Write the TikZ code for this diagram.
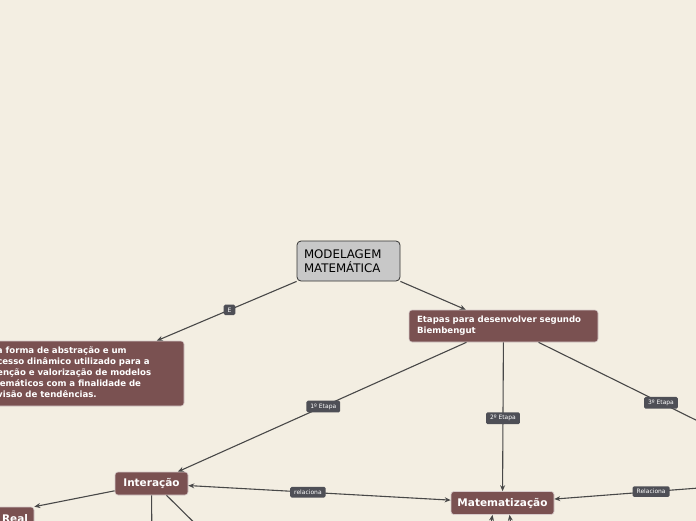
\documentclass[tikz,border=0pt]{standalone}
\usepackage{fontspec}
\setmainfont{DejaVu Sans}
\usetikzlibrary{arrows.meta}

\definecolor{paper}{RGB}{243,238,226}
\definecolor{topicbrown}{RGB}{122,81,81}
\definecolor{rootgray}{RGB}{200,200,200}
\definecolor{linkgray}{RGB}{72,72,72}
\definecolor{tagdark}{RGB}{78,79,86}

\begin{document}
\begin{tikzpicture}[
    x=1pt, y=-1pt,
    >={Stealth[length=6pt,width=5pt]},
    central/.style={
        rectangle,
        rounded corners=4pt,
        draw=black!80,
        fill=rootgray,
        line width=0.8pt,
        align=left,
        text width=89pt,
        inner xsep=7pt,
        minimum height=40pt,
        font=\fontsize{11.8}{14.5}\selectfont
    },
    topic/.style={
        rectangle,
        rounded corners=3pt,
        draw=white!70!topicbrown,
        line width=0.6pt,
        fill=topicbrown,
        text=white,
        align=left,
        font=\bfseries\fontsize{8.6}{11}\selectfont
    },
    subtopic/.style={
        topic,
        align=center,
        minimum height=23pt,
        font=\bfseries\fontsize{10.5}{12}\selectfont
    },
    tag/.style={
        rectangle,
        rounded corners=1.5pt,
        fill=tagdark,
        text=white,
        inner xsep=4pt,
        inner ysep=3pt,
        font=\fontsize{6}{6.5}\selectfont
    },
    link/.style={
        draw=linkgray,
        line width=1.1pt,
        ->
    }
]

\useasboundingbox (0,0) rectangle (696,520);
\clip (0,0) rectangle (696,520);
\fill[paper] (-10,-10) rectangle (706,530);

\node[central] (root) at (348.5,261) {MODELAGEM\\MATEMÁTICA};

\node[topic, text width=197pt, inner xsep=6pt, minimum height=65pt] (defbox) at (79.5,373.5)
    {Uma forma de abstração e um\\
     processo dinâmico utilizado para a\\
     obtenção e valorização de modelos\\
     matemáticos com a finalidade de\\
     previsão de tendências.};
\node[topic, text width=173pt, inner xsep=8pt, minimum height=32pt] (etapas) at (503.5,326)
    {Etapas para desenvolver segundo\\Biembengut};

\node[subtopic, minimum width=73pt] (inter) at (151.5,483.5) {Interação};
\node[subtopic, minimum width=103pt] (matem) at (502.5,503) {Matematização};
\node[subtopic, minimum width=38pt] (real) at (15,518.5) {Real};

% branches leaving the visible area
\coordinate (etapa3) at (712,428);
\coordinate (relac) at (712,487);
\coordinate (interA) at (152,560);
\coordinate (interB) at (231,559);
\coordinate (matA) at (485,560);
\coordinate (matB) at (516,560);

\draw[link] (root.south west) -- node[tag, pos=0.48] {E} (defbox);
\draw[link] (root.south east) -- (etapas);

\draw[link] ([xshift=-37pt]etapas.south) -- node[tag, pos=0.496] {1º Etapa} (inter);
\draw[link] (etapas) -- node[tag, pos=0.51] {2º Etapa} (matem);
\draw[link] ([xshift=35pt]etapas.south) -- node[tag, pos=0.706] {3º Etapa} (etapa3);

\draw[link, <->] (inter) -- node[tag, pos=0.456] {relaciona} (matem);
\draw[link] (relac) -- node[tag, pos=0.386] {Relaciona} (matem);

\draw[link] (inter) -- (real.north east);
\draw[link] (inter) -- (interA);
\draw[link] ([xshift=15pt]inter.south) -- (interB);
\draw[link] (matA) -- ([xshift=-10pt]matem.south);
\draw[link] (matB) -- ([xshift=7pt]matem.south);

\end{tikzpicture}
\end{document}
